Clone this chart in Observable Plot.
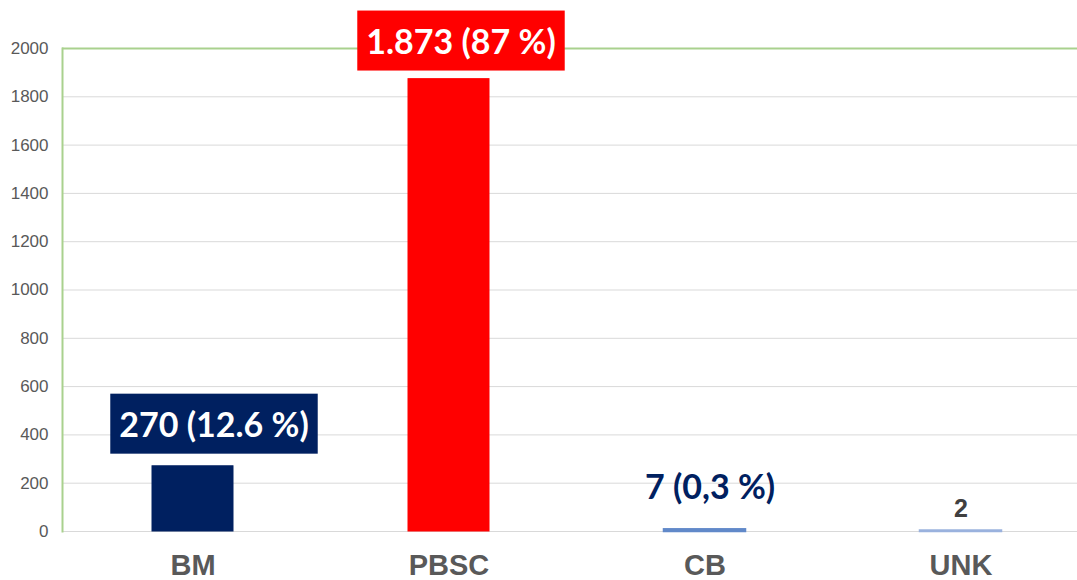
<!DOCTYPE html>
<html>
<head>
<meta charset="utf-8">
<script src="https://cdn.jsdelivr.net/npm/d3@7"></script>
<script src="https://cdn.jsdelivr.net/npm/@observablehq/plot@0.6"></script>
<style>
  html, body { margin: 0; padding: 0; background: #ffffff; }
</style>
</head>
<body>
<div id="chart"></div>
<script>
const categories = ["BM", "PBSC", "CB", "UNK"];
const values = [270, 1873, 7, 2];
const barColors = ["#002060", "#ff0000", "#3e6db8", "#8faadc"];
const barEdgeColors = ["#002060", "#ff0000", "#6189c9", "#9ab2de"];
const labelTexts = ["270 (12.6 %)", "1.873 (87 %)", "7 (0,3 %)", "2"];
const labelBoxColors = ["#002060", "#ff0000", null, null];
const labelTextColors = ["#ffffff", "#ffffff", "#002060", "#404040"];
const yTicks = [0, 200, 400, 600, 800, 1000, 1200, 1400, 1600, 1800, 2000];

const data = categories.map((c, i) => ({
  category: c, value: values[i], color: barColors[i], edge: barEdgeColors[i],
  label: labelTexts[i], box: labelBoxColors[i], textColor: labelTextColors[i]
}));

// per-label offsets relative to the bar top (screen px)
const offsets = [
  {dx: 21, dy: -40, font: "Lato", size: 34},
  {dx: 12, dy: -36, font: "Lato", size: 34},
  {dx: 5, dy: -42, font: "Lato", size: 34},
  {dx: 0, dy: -22, font: "Liberation Sans", size: 25}
];

const labelMarks = data.map((d, i) => Plot.text([d], {
  x: "category", y: "value", text: "label",
  fill: d.textColor,
  dx: offsets[i].dx, dy: offsets[i].dy,
  fontFamily: offsets[i].font, fontSize: offsets[i].size, fontWeight: "bold",
  textAnchor: "middle", lineAnchor: "middle"
}));

const chart = Plot.plot({
  width: 1077, height: 580,
  marginLeft: 62, marginRight: 0, marginTop: 48, marginBottom: 49,
  style: {fontFamily: "Liberation Sans", background: "#ffffff", overflow: "visible"},
  x: {domain: categories, range: [64, 1088], paddingInner: 0.684, paddingOuter: 0.342, label: null},
  y: {domain: [0, 2000], label: null},
  marks: [
    Plot.gridY(yTicks, {stroke: "#d9d9d9", strokeOpacity: 1, strokeWidth: 1}),
    Plot.ruleY([2000], {stroke: "#a9d18e", strokeWidth: 2}),
    Plot.frame({anchor: "left", stroke: "#a9d18e", strokeWidth: 2}),
    Plot.axisY(yTicks, {tickSize: 0, tickPadding: 14, fontSize: 17, fill: "#595959", label: null, tickFormat: d => String(d)}),
    Plot.axisX({tickSize: 0, tickPadding: 23, fontSize: 29, fontWeight: "bold", fill: "#595959", label: null}),
    Plot.barY(data.filter(d => d.value >= 50), {x: "category", y: "value", fill: "color", stroke: "color", strokeWidth: 1}),
    Plot.barY(data.filter(d => d.value < 50), {x: "category", y: "value", fill: "color", stroke: "edge", strokeWidth: 2.5}),
    ...labelMarks
  ]
});

document.getElementById("chart").append(chart);

// draw background boxes behind boxed labels
d3.select(chart).selectAll("text").each(function() {
  const t = this.textContent;
  const idx = labelTexts.indexOf(t);
  if (idx < 0 || !labelBoxColors[idx]) return;
  const bb = this.getBBox();
  const cx = bb.x + bb.width / 2, cy = bb.y + bb.height / 2;
  const w = bb.width + 18, h = 60;
  const rect = document.createElementNS("http://www.w3.org/2000/svg", "rect");
  rect.setAttribute("x", cx - w / 2);
  rect.setAttribute("y", cy - h / 2);
  rect.setAttribute("width", w);
  rect.setAttribute("height", h);
  rect.setAttribute("fill", labelBoxColors[idx]);
  const transform = this.getAttribute("transform");
  if (transform) rect.setAttribute("transform", transform);
  this.parentNode.insertBefore(rect, this);
});
</script>
</body>
</html>
